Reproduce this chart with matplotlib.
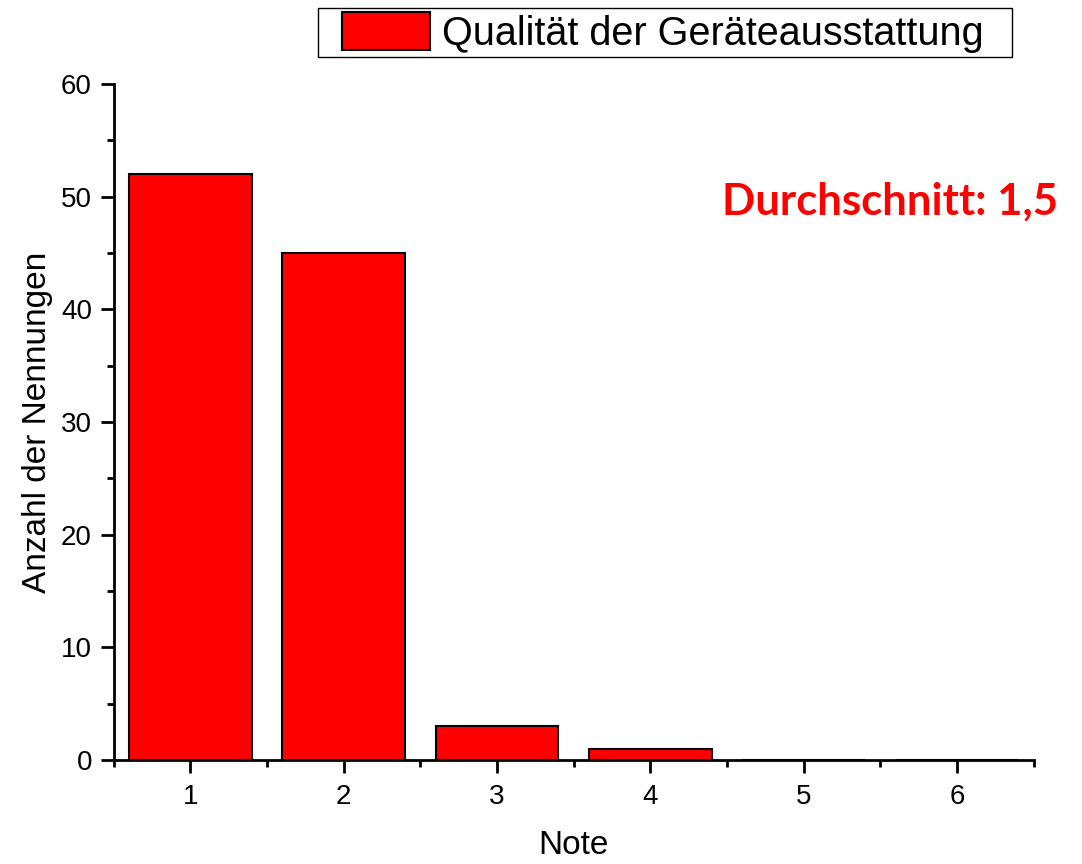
import matplotlib
matplotlib.use("Agg")
import matplotlib.pyplot as plt
from matplotlib.ticker import MultipleLocator, FixedLocator
from matplotlib.patches import Rectangle

notes = [1, 2, 3, 4, 5, 6]
counts = [52, 45, 3, 1, 0, 0]
series_label = "Qualität der Geräteausstattung"
annotation = "Durchschnitt: 1,5"

plt.rcParams['font.family'] = ['Liberation Sans', 'DejaVu Sans']

W, H = 1082, 864
fig = plt.figure(figsize=(W / 100, H / 100), dpi=100)
ax = fig.add_axes([0.1049, 0.1204, 0.8503, 0.7824])

ax.bar(notes, counts, width=0.8, color='#ff0000', edgecolor='black',
       linewidth=1.5, label=series_label)

ax.set_xlim(0.5, 6.5)
ax.set_ylim(0, 60)
ax.spines['top'].set_visible(False)
ax.spines['right'].set_visible(False)
for s in ('left', 'bottom'):
    ax.spines[s].set_linewidth(2)

ax.xaxis.set_major_locator(FixedLocator(notes))
ax.xaxis.set_minor_locator(MultipleLocator(0.5))
ax.yaxis.set_major_locator(MultipleLocator(10))
ax.yaxis.set_minor_locator(MultipleLocator(5))
ax.tick_params(which='major', direction='out', length=9.5, width=2, labelsize=20)
ax.tick_params(which='minor', direction='out', length=5, width=2)
ax.tick_params(axis='x', pad=8)
ax.tick_params(axis='y', pad=6)

ax.set_xlabel("Note", fontsize=24, labelpad=14)
ax.set_ylabel("Anzahl der Nennungen", fontsize=24, labelpad=6)

fs = 28.5
leg = fig.legend(loc='upper left', bbox_to_anchor=(342 / W, 1 - 12 / H), fontsize=fs,
                 frameon=False, handlelength=2.22, handleheight=1.11, borderpad=0,
                 handletextpad=0.3, borderaxespad=0)
for p in leg.get_patches():
    p.set_linewidth(1.5)

fig.text(1058 / W, 1 - 215 / H, annotation, color='#ff0000', fontsize=31.5,
         fontweight='bold', family=['Lato', 'DejaVu Sans'], ha='right', va='baseline')

fig.canvas.draw()
bb = leg.get_window_extent()
x0 = bb.x0 - 24
x1 = bb.x1 + 29
y0 = bb.y0 - 4
y1 = bb.y1 + 4
frame = Rectangle((x0 / W, y0 / H), (x1 - x0) / W, (y1 - y0) / H,
                  transform=fig.transFigure, fill=False, edgecolor='black',
                  linewidth=1.0, zorder=0)
fig.add_artist(frame)

fig.savefig("out.png", dpi=100)
